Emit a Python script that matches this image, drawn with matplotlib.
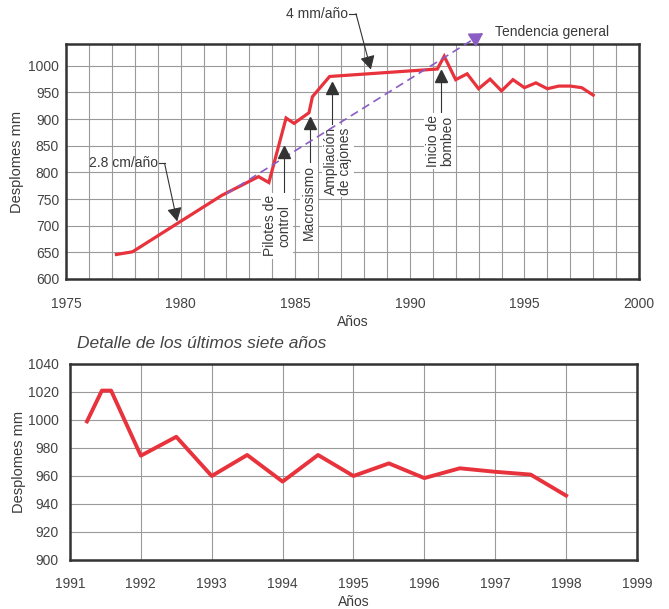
import matplotlib.pyplot as plt
from matplotlib.ticker import MultipleLocator

plt.rcParams['font.family'] = ['Liberation Sans', 'DejaVu Sans']

# serie completa (grafica superior)
anios = [1977.2, 1977.9, 1981.8, 1983.4, 1983.85, 1984.6, 1984.95, 1985.6, 1985.75,
         1986.5, 1991.2, 1991.5, 1992.0, 1992.5, 1993.0, 1993.5, 1994.0, 1994.5,
         1995.0, 1995.5, 1996.0, 1996.5, 1997.0, 1997.5, 1998.0]
desplomes = [646, 651, 757, 792, 781, 902, 892, 912, 942,
             980, 994, 1018, 974, 985, 957, 975, 953, 974,
             959, 968, 957, 962, 962, 959, 945]

# detalle 1991-1998 (grafica inferior)
anios_det = [1991.24, 1991.45, 1991.58, 1992.0, 1992.5, 1993.0, 1993.5, 1994.0, 1994.5,
             1995.0, 1995.5, 1996.0, 1996.5, 1997.0, 1997.5, 1998.0]
desplomes_det = [999, 1021, 1021, 974.5, 988, 960, 975, 956, 975,
                 960, 969, 958.5, 965.5, 963, 961, 946]

# tendencia general
tend_x = [1982.0, 1993.3]
tend_y = [760, 1064]

# eventos: (texto, x triangulo, y triangulo, x texto, y texto)
eventos = [
    ('Pilotes de\ncontrol', 1984.49, 838, 1984.2, 757),
    ('Macrosismo', 1985.65, 892, 1985.6, 813),
    ('Ampliación\nde cajones', 1986.6, 958, 1986.85, 885),
    ('Inicio de\nbombeo', 1991.36, 980, 1991.33, 908),
]

rojo = '#e8323c'
morado = '#8a5cc4'
gris_txt = '#3a3a3a'

fig = plt.figure(figsize=(6.69, 6.09), dpi=100)
ax1 = fig.add_axes([0.0987, 0.5419, 0.8565, 0.3859])
ax2 = fig.add_axes([0.1046, 0.0805, 0.8475, 0.3218])

for ax in (ax1, ax2):
    ax.set_axisbelow(True)
    for s in ax.spines.values():
        s.set_color('#333333')
        s.set_linewidth(1.8)
    ax.tick_params(which='both', length=0, labelsize=10, labelcolor='#444444')
    ax.grid(True, which='both', color='#9a9a9a', linewidth=0.8)

# ---- grafica superior ----
ax1.plot(anios, desplomes, color=rojo, lw=2.3, zorder=5, solid_joinstyle='miter')
ax1.plot(tend_x, tend_y, color=morado, lw=1.2, ls=(0, (5, 3)), zorder=6, clip_on=False)
ax1.annotate('', xy=(tend_x[1], tend_y[1]), xytext=(tend_x[1] - 0.3, tend_y[1] - 8.1),
             arrowprops=dict(arrowstyle='-|>,head_length=0.5,head_width=0.3',
                             color=morado, lw=1.2, mutation_scale=16),
             annotation_clip=False, zorder=6)
ax1.text(1993.73, 1064, 'Tendencia general', fontsize=10, color=gris_txt,
         ha='left', va='center', clip_on=False)

ax1.set_xlim(1975, 2000)
ax1.set_ylim(600, 1041)
ax1.xaxis.set_major_locator(MultipleLocator(5))
ax1.xaxis.set_minor_locator(MultipleLocator(1))
ax1.yaxis.set_major_locator(MultipleLocator(50))
ax1.tick_params(axis='x', pad=13)
ax1.tick_params(axis='y', pad=5)
ax1.set_xlabel('Años', fontsize=10, color=gris_txt, labelpad=3)
ax1.set_ylabel('Desplomes mm', fontsize=10.5, color=gris_txt, labelpad=3)

# tasas
flecha = dict(arrowstyle='-|>,head_length=0.55,head_width=0.3', color='#333333',
              lw=0.8, mutation_scale=15, shrinkA=0, shrinkB=0)
ax1.text(1979.0, 817, '2.8 cm/año', fontsize=10, color=gris_txt, ha='right', va='center')
ax1.plot([1979.05, 1979.3], [817, 817], color='#333333', lw=0.8)
ax1.annotate('', xy=(1979.85, 708), xytext=(1979.3, 817), arrowprops=flecha)

ax1.text(1987.3, 1098, '4 mm/año', fontsize=10, color=gris_txt, ha='right', va='center',
         clip_on=False)
ax1.plot([1987.35, 1987.65], [1098, 1098], color='#333333', lw=0.8, clip_on=False)
ax1.annotate('', xy=(1988.3, 993), xytext=(1987.65, 1098), arrowprops=flecha,
             annotation_clip=False)

for txt, xt, yt, xx, yy in eventos:
    ax1.plot([xt, xt], [yt - 8, yy], color='#333333', lw=0.8, zorder=3)
    ax1.plot(xt, yt, marker='^', color='#333333', markersize=8, zorder=6)
    ax1.text(xx, yy, txt, rotation=90, fontsize=10, color=gris_txt, ha='center', va='top',
             multialignment='center', linespacing=1.0, zorder=3,
             bbox=dict(facecolor='white', edgecolor='none', pad=1.5))

# ---- grafica inferior ----
ax2.plot(anios_det, desplomes_det, color=rojo, lw=2.8, zorder=5)
ax2.set_xlim(1991, 1999)
ax2.set_ylim(900, 1040)
ax2.xaxis.set_major_locator(MultipleLocator(1))
ax2.yaxis.set_major_locator(MultipleLocator(20))
ax2.tick_params(axis='x', pad=12)
ax2.tick_params(axis='y', pad=8)
ax2.set_xlabel('Años', fontsize=10, color=gris_txt, labelpad=3)
ax2.set_ylabel('Desplomes mm', fontsize=10.5, color=gris_txt, labelpad=1)
ax2.text(0.012, 1.107, 'Detalle de los últimos siete años', transform=ax2.transAxes,
         fontsize=12.5, style='italic', color='#444444', ha='left', va='center')

fig.savefig('out.png', dpi=100)
